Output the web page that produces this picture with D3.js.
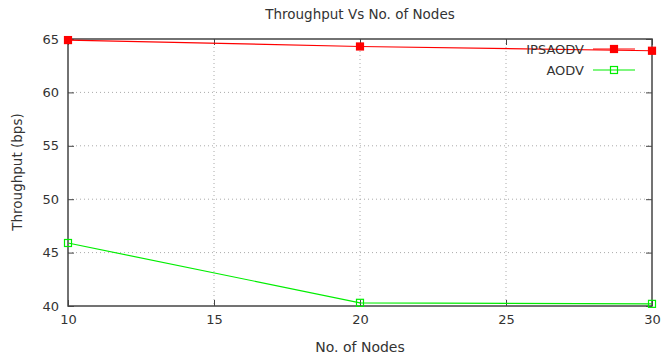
<!DOCTYPE html>
<html><head><meta charset="utf-8">
<script src="https://cdn.jsdelivr.net/npm/d3@7"></script>
<style>body{margin:0;background:#fff}svg{display:block}text{font-family:"DejaVu Sans",sans-serif;fill:#333}</style>
</head><body><svg id="c" width="672" height="356"></svg>
<script>
const nodes = [10, 20, 30];
const ipsaodv = [64.9, 64.3, 63.9];
const aodv = [45.9, 40.3, 40.2];
const xTicks = [10, 15, 20, 25, 30];
const yTicks = [40, 45, 50, 55, 60, 65];
const seriesNames = ["IPSAODV", "AODV"];
const seriesColors = ["#ff0000", "#00ee00"];

const svg = d3.select("#c");
const L = 68, R = 652, T = 39, B = 306;
const x = d3.scaleLinear().domain([10, 30]).range([L, R]);
const y = d3.scaleLinear().domain([40, 65]).range([B, T]);

// grid
const g = svg.append("g");
g.selectAll(".gx").data(xTicks.slice(1, -1)).join("line")
  .attr("x1", d => x(d)).attr("x2", d => x(d)).attr("y1", T).attr("y2", B)
  .attr("stroke", "#aaa").attr("stroke-dasharray", "1,3").attr("stroke-width", 1);
g.selectAll(".gy").data(yTicks.slice(1, -1)).join("line")
  .attr("x1", L).attr("x2", R).attr("y1", d => y(d)).attr("y2", d => y(d))
  .attr("stroke", "#aaa").attr("stroke-dasharray", "1,3").attr("stroke-width", 1);

// axes
const ax = d3.axisBottom(x).tickValues(xTicks).tickSize(-6).tickPadding(9).tickFormat(d3.format("d"));
const axT = d3.axisTop(x).tickValues(xTicks).tickSize(-6).tickFormat("");
const ay = d3.axisLeft(y).tickValues(yTicks).tickSize(-6).tickPadding(9).tickFormat(d3.format("d"));
const ayR = d3.axisRight(y).tickValues(yTicks).tickSize(-6).tickFormat("");
function style(sel){
  sel.selectAll(".domain").remove();
  sel.selectAll("line").attr("stroke", "#444");
  sel.selectAll("text").attr("font-size", 13).attr("fill", "#333").style("font-family", "DejaVu Sans, sans-serif");
}
svg.append("g").attr("transform", `translate(0,${B})`).call(ax).call(style);
svg.append("g").attr("transform", `translate(0,${T})`).call(axT).call(style);
svg.append("g").attr("transform", `translate(${L},0)`).call(ay).call(style);
svg.append("g").attr("transform", `translate(${R},0)`).call(ayR).call(style);

svg.append("rect").attr("x", L).attr("y", T).attr("width", R - L).attr("height", B - T)
  .attr("fill", "none").attr("stroke", "#444").attr("stroke-width", 1.5);

// series
const data = [ipsaodv, aodv];
const line = d3.line().x((d, i) => x(nodes[i])).y(d => y(d));
const ms = 7;
data.forEach((vals, si) => {
  const col = seriesColors[si];
  svg.append("path").datum(vals).attr("d", line).attr("fill", "none").attr("stroke", col).attr("stroke-width", 1.2);
  svg.selectAll(null).data(vals).join("rect")
    .attr("x", (d, i) => x(nodes[i]) - ms / 2).attr("y", d => y(d) - ms / 2)
    .attr("width", ms).attr("height", ms)
    .attr("fill", si === 0 ? col : "none").attr("stroke", col).attr("stroke-width", 1.2);
  // legend
  const ly = 49 + si * 21;
  svg.append("text").attr("x", 584).attr("y", ly + 5).attr("text-anchor", "end")
    .attr("font-size", 13).text(seriesNames[si]);
  svg.append("line").attr("x1", 593).attr("x2", 635).attr("y1", ly).attr("y2", ly)
    .attr("stroke", col).attr("stroke-width", 1.2);
  svg.append("rect").attr("x", 614 - ms / 2).attr("y", ly - ms / 2).attr("width", ms).attr("height", ms)
    .attr("fill", si === 0 ? col : "none").attr("stroke", col).attr("stroke-width", 1.2);
});

// titles
svg.append("text").attr("x", 360).attr("y", 19).attr("text-anchor", "middle").attr("font-size", 13.5).text("Throughput Vs No. of Nodes");
svg.append("text").attr("x", 360).attr("y", 352).attr("text-anchor", "middle").attr("font-size", 14).text("No. of Nodes");
svg.append("text").attr("transform", "translate(22,172) rotate(-90)").attr("text-anchor", "middle").attr("font-size", 13.5).text("Throughput (bps)");
</script></body></html>
